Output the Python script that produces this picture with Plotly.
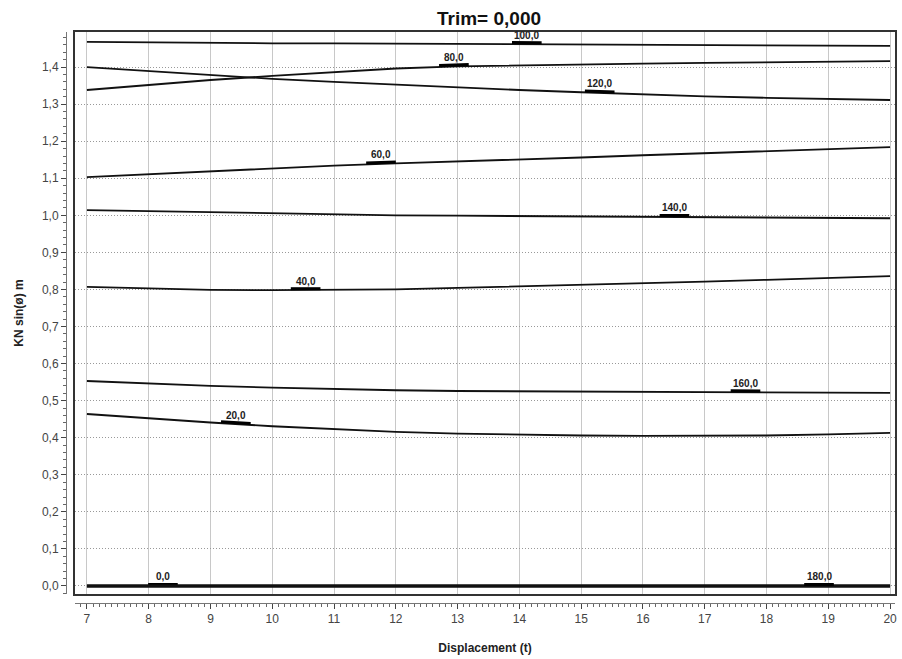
import plotly.graph_objects as go
import numpy as np

displacement = [7, 8, 9, 10, 11, 12, 13, 14, 15, 16, 17, 18, 19, 20]

kn_0 = [0.000] * 14
kn_20 = [0.464, 0.452, 0.441, 0.431, 0.423, 0.416, 0.411, 0.408, 0.406, 0.405, 0.405, 0.406, 0.409, 0.413]
kn_40 = [0.807, 0.803, 0.799, 0.798, 0.798, 0.800, 0.804, 0.808, 0.812, 0.816, 0.821, 0.826, 0.831, 0.836]
kn_60 = [1.103, 1.111, 1.119, 1.127, 1.134, 1.140, 1.145, 1.151, 1.156, 1.162, 1.168, 1.174, 1.179, 1.184]
kn_80 = [1.338, 1.352, 1.365, 1.376, 1.387, 1.396, 1.402, 1.405, 1.407, 1.409, 1.411, 1.413, 1.415, 1.416]
kn_100 = [1.468, 1.466, 1.465, 1.464, 1.464, 1.463, 1.463, 1.462, 1.461, 1.460, 1.459, 1.459, 1.458, 1.457]
kn_120 = [1.400, 1.389, 1.378, 1.368, 1.360, 1.352, 1.345, 1.338, 1.332, 1.326, 1.321, 1.317, 1.314, 1.311]
kn_140 = [1.014, 1.011, 1.008, 1.005, 1.002, 1.000, 0.999, 0.998, 0.997, 0.996, 0.995, 0.994, 0.993, 0.992]
kn_160 = [0.553, 0.546, 0.540, 0.535, 0.531, 0.528, 0.526, 0.525, 0.524, 0.523, 0.523, 0.522, 0.522, 0.521]
kn_180 = [0.000] * 14

series = [
    ("0,0", kn_0, 8.23),
    ("20,0", kn_20, 9.41),
    ("40,0", kn_40, 10.54),
    ("60,0", kn_60, 11.76),
    ("80,0", kn_80, 12.94),
    ("100,0", kn_100, 14.12),
    ("120,0", kn_120, 15.30),
    ("140,0", kn_140, 16.51),
    ("160,0", kn_160, 17.66),
    ("180,0", kn_180, 18.85),
]

x_ticks = list(range(7, 21))
y_ticks = [round(0.1 * i, 1) for i in range(15)]

x_range = [6.806, 20.08]
y_range = [-0.0216, 1.4945]

fig = go.Figure()

for name, vals, lx in series:
    w = 3 if name in ("0,0", "180,0") else 1.8
    fig.add_trace(go.Scatter(x=displacement, y=vals, mode="lines",
                             line=dict(color="#111111", width=w),
                             showlegend=False, hoverinfo="skip"))
    ly = float(np.interp(lx, displacement, vals))
    bx = [lx - 0.24, lx + 0.24]
    by = [float(np.interp(v, displacement, vals)) + 0.004 for v in bx]
    fig.add_trace(go.Scatter(x=bx, y=by, mode="lines",
                             line=dict(color="#000000", width=3),
                             showlegend=False, hoverinfo="skip"))
    fig.add_annotation(x=lx, y=ly, text="<b>" + name + "</b>", showarrow=False,
                       yshift=9, font=dict(size=10, color="#222222", family="Liberation Sans"))

# invisible trace for ruler axes
fig.add_trace(go.Scatter(x=[None], y=[None], xaxis="x2", yaxis="y2",
                         showlegend=False, hoverinfo="skip"))

L, R, T, B = 56, 5, 32, 54
W = 902 - L - R
H = 659 - T - B
plot_bottom = 659 - B

x_dom = [(75 - L) / W, 1]
y_dom = [(plot_bottom - 594) / H, 1]

fig.update_layout(
    width=902, height=659,
    margin=dict(l=L, r=R, t=T, b=B),
    paper_bgcolor="white", plot_bgcolor="white",
    separators=",.",
    title=dict(text="<b>Trim= 0,000</b>", x=(489) / 902, xanchor="center",
               y=1 - 18 / 659, yanchor="middle",
               font=dict(size=19, family="Liberation Sans", color="#111111")),
    xaxis=dict(domain=x_dom, range=x_range, tickvals=x_ticks, showticklabels=False,
               showgrid=True, gridcolor="#c8c8c8", gridwidth=1,
               showline=True, mirror=True, linecolor="#333333", linewidth=2,
               ticks="", zeroline=False),
    yaxis=dict(domain=y_dom, range=y_range, tickvals=y_ticks, showticklabels=False,
               showgrid=True, gridcolor="#999999", gridwidth=1, griddash="1px,2px",
               showline=True, mirror=True, linecolor="#333333", linewidth=2,
               ticks="", zeroline=False),
    xaxis2=dict(overlaying="x", anchor="free", position=(plot_bottom - 603) / H,
                range=x_range, tickvals=x_ticks, ticktext=[str(v) for v in x_ticks],
                showgrid=False, zeroline=False, showline=True, linecolor="#777777", linewidth=1,
                ticks="outside", ticklen=5, tickcolor="#444444",
                minor=dict(ticks="outside", ticklen=3, dtick=0.1, tick0=7, tickcolor="#666666"),
                tickfont=dict(size=12, family="Liberation Sans", color="#444444"),
                title=dict(text="<b>Displacement (t)</b>", standoff=18,
                           font=dict(size=12, family="Liberation Sans", color="#222222"))),
    yaxis2=dict(overlaying="y", anchor="free", position=(66 - L) / W, side="left",
                range=y_range, tickvals=y_ticks, tickformat=".1f",
                showgrid=False, zeroline=False, showline=True, linecolor="#777777", linewidth=1,
                ticks="outside", ticklen=5, tickcolor="#444444",
                minor=dict(ticks="outside", ticklen=3, dtick=0.02, tick0=0, tickcolor="#666666"),
                tickfont=dict(size=12, family="Liberation Sans", color="#444444"),
                title=dict(text="<b>KN sin(ø) m</b>", standoff=14,
                           font=dict(size=12, family="Liberation Sans", color="#222222"))),
)

fig.write_html("out.html")
